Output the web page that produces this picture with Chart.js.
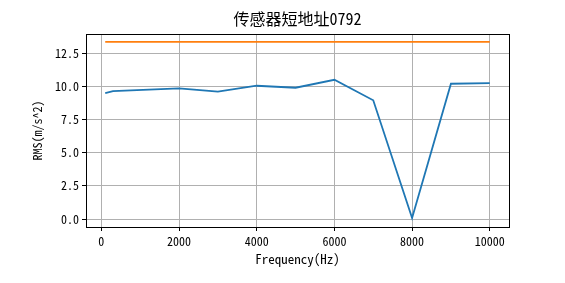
<!DOCTYPE html>
<html><head><meta charset="utf-8">
<script src="https://cdn.jsdelivr.net/npm/chart.js@4/dist/chart.umd.min.js"></script>
<style>html,body{margin:0;padding:0;background:#fff}#wrap{width:565px;height:283px}</style>
</head><body><div id="wrap"><canvas id="c" width="565" height="283"></canvas></div>
<script>
const freqs = [100, 300, 2000, 3000, 4000, 5000, 6000, 7000, 8000, 9000, 10000];
const rms = [9.5, 9.65, 9.85, 9.6, 10.05, 9.9, 10.5, 8.95, 0.08, 10.2, 10.25];
const limitFreqs = [100, 10000];
const limitValues = [13.35, 13.35];
const xTicks = [0, 2000, 4000, 6000, 8000, 10000];
const yTicks = [0, 2.5, 5, 7.5, 10, 12.5];
const titleText = '传感器短地址0792';
const xTitle = 'Frequency(Hz)';
const yTitle = 'RMS(m/s^2)';

const FONT = "'Noto Sans Mono CJK SC', 'Noto Sans CJK SC', 'DejaVu Sans Mono', monospace";
const frame = {
  id: 'frame',
  afterDatasetsDraw(chart) {
    const a = chart.chartArea, ctx = chart.ctx;
    ctx.save();
    ctx.strokeStyle = '#000';
    ctx.lineWidth = 1;
    ctx.strokeRect(Math.round(a.left) + 0.5, Math.round(a.top) + 0.5, Math.round(a.right - a.left), Math.round(a.bottom - a.top));
    const cx = (a.left + a.right) / 2;
    ctx.fillStyle = '#000';
    ctx.textAlign = 'center';
    ctx.textBaseline = 'middle';
    ctx.font = '16px ' + FONT;
    ctx.fillText(titleText, cx, 19);
    ctx.font = '13px ' + FONT;
    ctx.fillText(xTitle, cx, 259);
    ctx.font = '12px ' + FONT;
    ctx.translate(37, (a.top + a.bottom) / 2);
    ctx.rotate(-Math.PI / 2);
    ctx.fillText(yTitle, 0, 0);
    ctx.restore();
  }
};
new Chart(document.getElementById('c'), {
  type: 'line',
  data: {
    datasets: [
      { data: freqs.map((f, i) => ({ x: f, y: rms[i] })), borderColor: '#1f77b4', borderWidth: 1.8, pointRadius: 0, tension: 0, fill: false },
      { data: limitFreqs.map((f, i) => ({ x: f, y: limitValues[i] })), borderColor: '#ff7f0e', borderWidth: 1.8, pointRadius: 0, tension: 0, fill: false }
    ]
  },
  options: {
    responsive: false, animation: false, devicePixelRatio: 1,
    layout: { padding: { left: 0, right: 56, top: 34, bottom: 0 } },
    plugins: {
      legend: { display: false }, tooltip: { enabled: false }, title: { display: false }
    },
    scales: {
      x: {
        type: 'linear', min: -395, max: 10495,
        afterBuildTicks: s => { s.ticks = xTicks.map(v => ({ value: v })); },
        afterFit: s => { s.height = 56; },
        ticks: { color: '#000', font: { family: FONT, size: 12 }, padding: 3, maxRotation: 0, callback: v => String(v) },
        grid: { color: '#b0b0b0', lineWidth: 1, tickColor: '#000', tickLength: 4 },
        border: { display: false }
      },
      y: {
        type: 'linear', min: -0.6, max: 13.95,
        afterBuildTicks: s => { s.ticks = yTicks.map(v => ({ value: v })); },
        afterFit: s => { s.width = 86; },
        ticks: { color: '#000', font: { family: FONT, size: 12 }, padding: 3, callback: v => v.toFixed(1) },
        grid: { color: '#b0b0b0', lineWidth: 1, tickColor: '#000', tickLength: 4 },
        border: { display: false }
      }
    }
  },
  plugins: [frame]
});
</script></body></html>
